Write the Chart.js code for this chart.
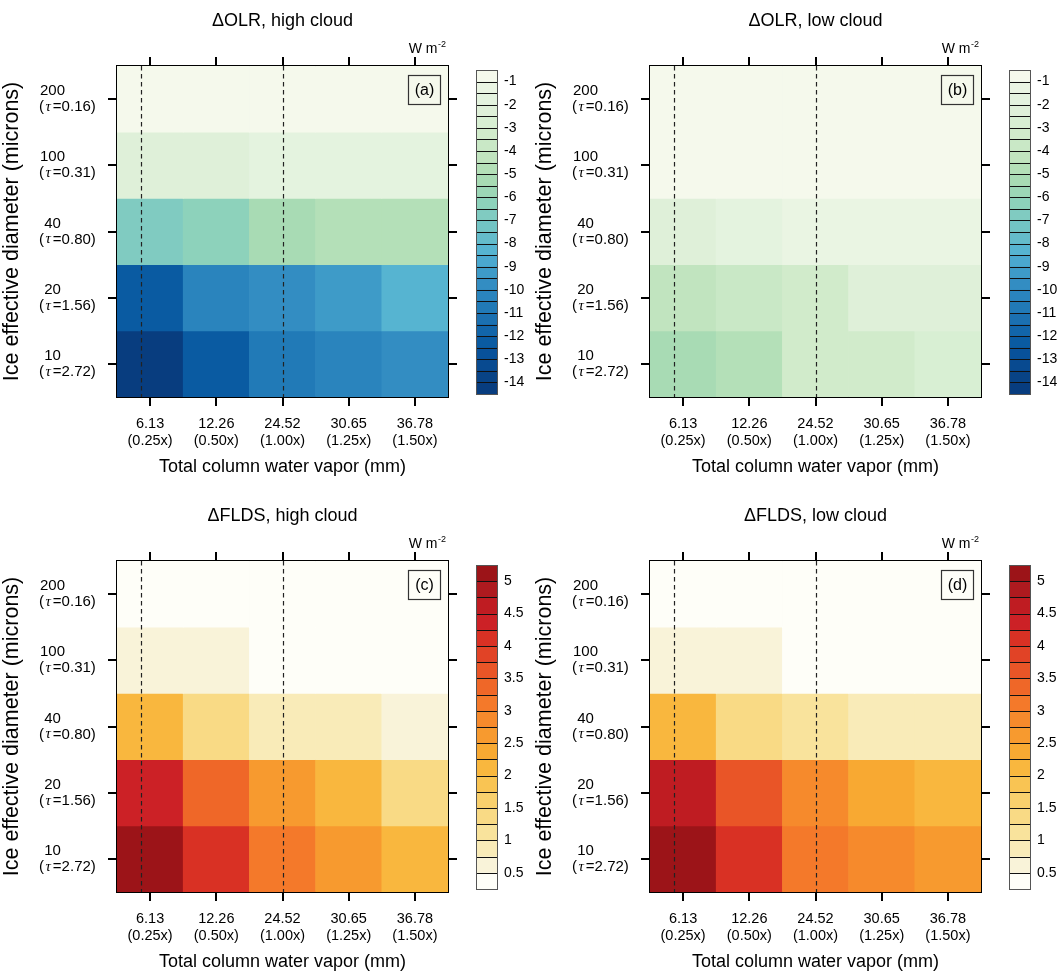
<!DOCTYPE html>
<html>
<head>
<meta charset="utf-8">
<title>Cloud radiative response</title>
<script src="https://cdn.jsdelivr.net/npm/chart.js@4.4.1/dist/chart.umd.min.js"></script>
<style>
  html, body { margin: 0; padding: 0; background: #fff; }
  #fig { position: relative; width: 1060px; height: 973px; overflow: hidden; }
  #fig canvas { position: absolute; }
</style>
</head>
<body>
<div id="fig">
  <canvas id="panelA" width="527" height="478" style="left:0;top:0"></canvas>
  <canvas id="panelB" width="527" height="478" style="left:533px;top:0"></canvas>
  <canvas id="panelC" width="527" height="478" style="left:0;top:495px"></canvas>
  <canvas id="panelD" width="527" height="478" style="left:533px;top:495px"></canvas>
</div>
<script>
const FONT = "'Liberation Sans', Arial, Helvetica, sans-serif";

// x axis: total column water vapor (mm) and its scaling
const tcwv = ['6.13', '12.26', '24.52', '30.65', '36.78'];
const tcwvFactor = ['(0.25x)', '(0.50x)', '(1.00x)', '(1.25x)', '(1.50x)'];
// y axis, top to bottom: ice effective diameter and optical depth
const iceDiam = ['200', '100', '40', '20', '10'];
const iceTau = ['0.16', '0.31', '0.80', '1.56', '2.72'];

// dashed reference lines (x category units)
const refLines = [-0.135, 2];

// W m-2; rows follow iceDiam, columns follow tcwv
const olrHigh = [
    [-0.6, -0.6, -0.6, -0.6, -0.6],
    [-2.2, -2.2, -1.7, -1.7, -1.7],
    [-6.7, -6.2, -5.2, -4.9, -4.9],
    [-12.1, -10.3, -9.7, -9.2, -8.4],
    [-14.3, -12.2, -10.7, -10.3, -9.8]
];
const olrLow = [
    [-0.3, -0.3, -0.3, -0.3, -0.3],
    [-0.6, -0.6, -0.6, -0.6, -0.6],
    [-2.1, -1.7, -1.3, -1.4, -1.4],
    [-4.2, -3.6, -3.2, -2.2, -2.2],
    [-5.3, -4.7, -3.4, -3.1, -2.8]
];
const fldsHigh = [
    [0.2, 0.2, 0.2, 0.2, 0.2],
    [0.6, 0.6, 0.3, 0.3, 0.3],
    [2.1, 1.4, 0.95, 0.95, 0.7],
    [4.3, 3.3, 2.5, 2.1, 1.4],
    [5.2, 4.1, 3.05, 2.5, 2.1]
];
const fldsLow = [
    [0.2, 0.2, 0.2, 0.2, 0.2],
    [0.6, 0.6, 0.3, 0.3, 0.3],
    [2.1, 1.4, 1.15, 0.95, 0.95],
    [4.6, 3.6, 2.85, 2.4, 2.1],
    [5.2, 4.1, 3.05, 2.8, 2.5]
];

// contour levels, listed top to bottom of the colour bar
const olrLevels = [-1, -1.5, -2, -2.5, -3, -3.5, -4, -4.5, -5, -5.5, -6, -6.5, -7, -7.5,
    -8, -8.5, -9, -9.5, -10, -10.5, -11, -11.5, -12, -12.5, -13, -13.5, -14];
const fldsLevels = [5, 4.75, 4.5, 4.25, 4, 3.75, 3.5, 3.25, 3, 2.75, 2.5, 2.25, 2,
    1.75, 1.5, 1.25, 1, 0.75, 0.5];

const olrColors = ['#f5f9ec', '#eaf5e3', '#e4f3df', '#dff0d9', '#d8efd3', '#d1ebcb', '#c9e8c6',
    '#c1e4bf', '#b4e0b8', '#a8dbb4', '#9cd6b6', '#8dd2bb', '#80cbc1', '#72c4c4', '#64bccb',
    '#56b4d1', '#4aa8cf', '#3e9bc8', '#338dc2', '#2a84bd', '#217ab7', '#1b70b0', '#1265a9',
    '#0a5ba2', '#08519a', '#084a90', '#084386', '#083d7f'];
const fldsColors = ['#9c1418', '#ae1a1f', '#bf1c22', '#cc2126', '#d93124', '#e14326', '#e95527',
    '#ef6728', '#f4792a', '#f68a2c', '#f79a2f', '#f8a932', '#f9b73e', '#f9c453', '#f9d06d',
    '#f9da85', '#f9e39c', '#f9ebb8', '#f9f3d9', '#fefef8'];

const W = 527, H = 478;
const AREA = { left: 117, top: 66, right: 448, bottom: 397 };

function colorFor(v, levels, palette) {
    let k = 0;
    levels.forEach(l => { if (l > v) k++; });
    return palette[k];
}

function frameAxis(extra) {
    return Object.assign({
        grid: { offset: false, drawOnChartArea: false, drawTicks: true, tickLength: 9, color: '#000', lineWidth: 2 },
        border: { display: true, color: '#000', width: 2 },
        z: 1
    }, extra);
}

function rowTicks(scale) {
    scale.ticks = iceDiam.map((_, i) => ({ value: i + 0.5 }));
}

function makePanel(id, cfg) {
    const decor = {
        id: 'decor',
        afterDatasetsDraw(chart) {
            const ctx = chart.ctx, ca = chart.chartArea, xs = chart.scales.x;
            ctx.save();
            ctx.strokeStyle = '#222';
            ctx.lineWidth = 1.2;
            ctx.setLineDash([4.5, 3.5]);
            refLines.forEach(v => {
                const px = Math.round(xs.getPixelForValue(v)) + 0.5;
                ctx.beginPath();
                ctx.moveTo(px, ca.top);
                ctx.lineTo(px, ca.bottom);
                ctx.stroke();
            });
            ctx.restore();
        },
        afterDraw(chart) {
            const ctx = chart.ctx, ca = chart.chartArea, ys = chart.scales.y;
            const midX = (ca.left + ca.right) / 2;
            ctx.save();
            ctx.fillStyle = '#000';
            ctx.textBaseline = 'middle';

            // title
            ctx.textAlign = 'center';
            ctx.font = '18px ' + FONT;
            ctx.fillText(cfg.title, midX, 21);

            // units
            ctx.textBaseline = 'alphabetic';
            ctx.textAlign = 'right';
            ctx.font = '14px ' + FONT;
            ctx.fillText('W m', ca.right - 10.5, 53);
            ctx.textAlign = 'left';
            ctx.font = '9px ' + FONT;
            ctx.fillText('-2', ca.right - 10, 47);

            // panel letter
            ctx.strokeStyle = '#333';
            ctx.lineWidth = 1.2;
            ctx.strokeRect(ca.right - 39.5, ca.top + 9.5, 32, 29);
            ctx.textAlign = 'center';
            ctx.textBaseline = 'middle';
            ctx.font = '16px ' + FONT;
            ctx.fillText(cfg.letter, ca.right - 23.5, ca.top + 24.5);

            // y tick labels: diameter over optical depth
            iceDiam.forEach((d, i) => {
                const py = ys.getPixelForValue(i + 0.5);
                ctx.textAlign = 'center';
                ctx.font = '15px ' + FONT;
                ctx.fillText(d, ca.left - 64.5, py - 8);
                let x = ca.left - 78;
                ctx.textAlign = 'left';
                ctx.fillText('(', x, py + 8);
                x += ctx.measureText('(').width + 1.5;
                ctx.font = 'italic 15px "Liberation Serif", "DejaVu Serif", serif';
                ctx.fillText('\u03c4', x, py + 8);
                x += ctx.measureText('\u03c4').width + 2;
                ctx.font = '15px ' + FONT;
                ctx.fillText('=' + iceTau[i] + ')', x, py + 8);
            });

            // colour bar
            const cbX = ca.right + 28, cbW = 21, cbTop = ca.top + 4, cbH = 324;
            const n = cfg.palette.length, h = cbH / n;
            cfg.palette.forEach((c, k) => {
                ctx.fillStyle = c;
                ctx.fillRect(cbX, cbTop + k * h, cbW, h + 0.6);
            });
            ctx.strokeStyle = '#111';
            ctx.lineWidth = 1;
            for (let k = 1; k < n; k++) {
                const y = Math.round(cbTop + k * h) + 0.5;
                ctx.beginPath();
                ctx.moveTo(cbX, y);
                ctx.lineTo(cbX + cbW, y);
                ctx.stroke();
            }
            ctx.strokeStyle = '#555';
            ctx.strokeRect(cbX + 0.5, cbTop + 0.5, cbW, cbH);
            ctx.fillStyle = '#000';
            ctx.textAlign = 'left';
            ctx.font = '14px ' + FONT;
            cfg.levels.forEach((lv, j) => {
                if (j % 2 === 0) ctx.fillText(String(lv), cbX + 28, cbTop + (j + 1) * h);
            });
            ctx.restore();
        }
    };

    const datasets = cfg.values.map((row, r) => ({
        data: row.map(() => [r, r + 1]),
        backgroundColor: row.map(v => colorFor(v, cfg.levels, cfg.palette)),
        borderWidth: 0,
        barPercentage: 1,
        categoryPercentage: 1,
        grouped: false
    }));

    new Chart(document.getElementById(id).getContext('2d'), {
        type: 'bar',
        data: { labels: tcwv, datasets: datasets },
        options: {
            responsive: false,
            animation: false,
            events: [],
            layout: { padding: 0 },
            plugins: { legend: { display: false }, tooltip: { enabled: false } },
            scales: {
                x: frameAxis({
                    type: 'category', position: 'bottom', offset: true,
                    ticks: {
                        autoSkip: false, maxRotation: 0, padding: 9, color: '#000',
                        font: { family: FONT, size: 14.5, lineHeight: '17.5px' },
                        callback: (v, i) => [tcwv[i], tcwvFactor[i]]
                    },
                    title: {
                        display: true, text: 'Total column water vapor (mm)', color: '#000', padding: 0,
                        font: { family: FONT, size: 18 }
                    },
                    afterFit: s => { s.height = H - AREA.bottom; }
                }),
                x2: frameAxis({
                    type: 'category', position: 'top', offset: true,
                    ticks: { display: false },
                    afterFit: s => { s.height = AREA.top; }
                }),
                y: frameAxis({
                    type: 'linear', position: 'left', reverse: true, min: 0, max: 5,
                    afterBuildTicks: rowTicks,
                    ticks: { display: false },
                    title: {
                        display: true, text: 'Ice effective diameter (microns)', color: '#000', padding: 0,
                        font: { family: FONT, size: 21.5, lineHeight: 1.1 }
                    },
                    afterFit: s => { s.width = AREA.left; }
                }),
                y2: frameAxis({
                    type: 'linear', position: 'right', reverse: true, min: 0, max: 5,
                    afterBuildTicks: rowTicks,
                    ticks: { display: false },
                    afterFit: s => { s.width = W - AREA.right; }
                })
            }
        },
        plugins: [decor]
    });
}

makePanel('panelA', { title: '\u0394OLR, high cloud', letter: '(a)', values: olrHigh, levels: olrLevels, palette: olrColors });
makePanel('panelB', { title: '\u0394OLR, low cloud', letter: '(b)', values: olrLow, levels: olrLevels, palette: olrColors });
makePanel('panelC', { title: '\u0394FLDS, high cloud', letter: '(c)', values: fldsHigh, levels: fldsLevels, palette: fldsColors });
makePanel('panelD', { title: '\u0394FLDS, low cloud', letter: '(d)', values: fldsLow, levels: fldsLevels, palette: fldsColors });
</script>
</body>
</html>
